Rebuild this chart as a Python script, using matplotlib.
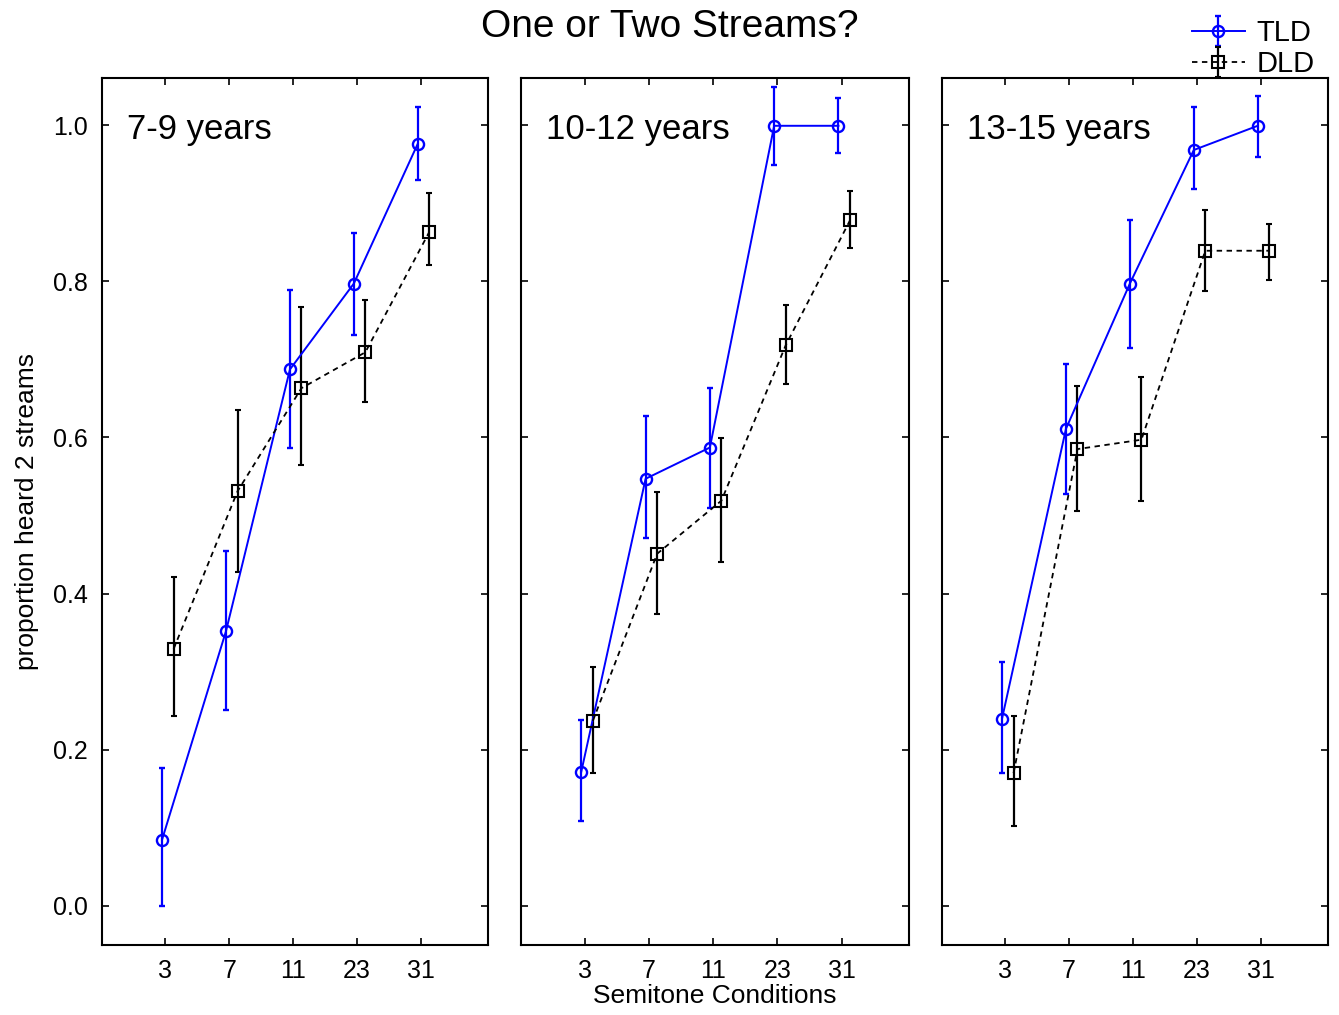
"""
One or Two Streams? -- proportion of trials heard as 2 streams, TLD vs DLD,
by semitone condition, in three age groups.
"""

import matplotlib
matplotlib.use("Agg")
import matplotlib.pyplot as plt
import numpy as np

plt.rcParams['font.family'] = ['Liberation Sans', 'DejaVu Sans']

conditions = ['3', '7', '11', '23', '31']
age_groups = ['7-9 years', '10-12 years', '13-15 years']

# mean proportion, lower and upper error bar ends
tld_mean = [
    [0.085, 0.352, 0.687, 0.797, 0.976],
    [0.172, 0.547, 0.587, 0.999, 0.999],
    [0.240, 0.611, 0.797, 0.968, 0.999],
]
tld_low = [
    [0.000, 0.251, 0.587, 0.731, 0.930],
    [0.109, 0.471, 0.510, 0.949, 0.964],
    [0.170, 0.528, 0.714, 0.918, 0.959],
]
tld_high = [
    [0.177, 0.455, 0.789, 0.862, 1.023],
    [0.238, 0.627, 0.663, 1.049, 1.035],
    [0.312, 0.694, 0.878, 1.023, 1.037],
]

dld_mean = [
    [0.329, 0.531, 0.663, 0.709, 0.863],
    [0.237, 0.451, 0.519, 0.718, 0.878],
    [0.170, 0.585, 0.597, 0.839, 0.839],
]
dld_low = [
    [0.243, 0.428, 0.565, 0.645, 0.821],
    [0.170, 0.374, 0.440, 0.668, 0.842],
    [0.102, 0.506, 0.519, 0.787, 0.801],
]
dld_high = [
    [0.421, 0.635, 0.767, 0.776, 0.913],
    [0.306, 0.530, 0.599, 0.770, 0.915],
    [0.243, 0.666, 0.677, 0.891, 0.873],
]

yticks = [0.0, 0.2, 0.4, 0.6, 0.8, 1.0]

fig = plt.figure(figsize=(13.39, 10.15), dpi=100)

lefts = [0.0762, 0.389, 0.7035]
widths = [0.2883, 0.290, 0.2883]
x = np.arange(len(conditions))

handles = None
for k in range(3):
    ax = fig.add_axes([lefts[k], 0.069, widths[k], 0.854])

    tm = np.array(tld_mean[k])
    dm = np.array(dld_mean[k])
    tl_err = [tm - np.array(tld_low[k]), np.array(tld_high[k]) - tm]
    dl_err = [dm - np.array(dld_low[k]), np.array(dld_high[k]) - dm]

    h1 = ax.errorbar(x - 0.05, tm, yerr=tl_err, color='#0000ff', lw=1.4,
                     marker='o', ms=8, mfc='none', mew=1.7,
                     capsize=2.5, elinewidth=1.6, capthick=1.5)
    h2 = ax.errorbar(x + 0.13, dm, yerr=dl_err, color='black', ls='--',
                     lw=1.3, dashes=(3, 2.5), marker='s', ms=8, mfc='none',
                     mew=1.5, capsize=2.5, elinewidth=1.6, capthick=1.5)
    h1[2][0].set_linestyle('-')
    h2[2][0].set_linestyle('-')
    handles = (h1, h2)

    ax.set_xlim(-0.99, 5.05)
    ax.set_ylim(-0.05, 1.06)
    ax.set_xticks(x)
    ax.set_xticklabels(conditions)
    ax.set_yticks(yticks)
    if k == 0:
        ax.set_yticklabels(['%.1f' % v for v in yticks])
        ax.set_ylabel('proportion heard 2 streams', fontsize=19, labelpad=10)
    else:
        ax.set_yticklabels([])
    if k == 1:
        ax.set_xlabel('Semitone Conditions', fontsize=19, labelpad=1)

    ax.tick_params(direction='in', top=True, right=True, length=5,
                   width=1.2, labelsize=18, pad=10)
    ax.tick_params(axis='y', pad=10)
    for s in ax.spines.values():
        s.set_linewidth(1.5)

    ax.text(0.065, 0.96, age_groups[k], transform=ax.transAxes,
            fontsize=25, va='top', ha='left')

fig.text(0.5, 0.973, 'One or Two Streams?', ha='center', va='center',
         fontsize=28)

fig.legend(handles, ['TLD', 'DLD'], loc='upper right',
           bbox_to_anchor=(0.999, 1.004), frameon=False, fontsize=21,
           handlelength=1.8, handletextpad=0.4, labelspacing=0.1,
           borderpad=0.3)

plt.savefig('out.png', dpi=100)
